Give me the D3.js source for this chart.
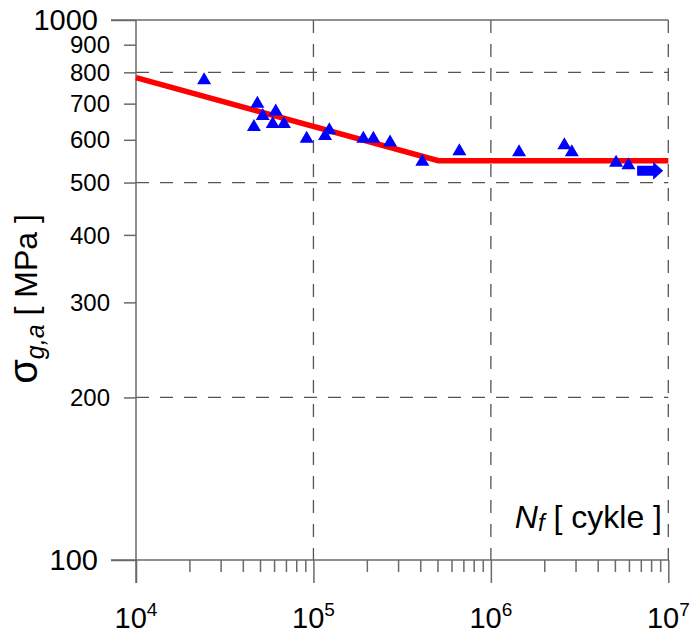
<!DOCTYPE html>
<html>
<head>
<meta charset="utf-8">
<script src="https://cdn.jsdelivr.net/npm/d3@7"></script>
<style>
  html, body { margin: 0; padding: 0; background: #fff; }
  svg { display: block; }
  text { font-family: "Liberation Sans", Arial, sans-serif; fill: #000; }
</style>
</head>
<body>
<svg id="chart" width="691" height="635"></svg>
<script>
// S-N (Wöhler) data: number of cycles to failure and stress amplitude [MPa]
const cyclesN = [24200, 48300, 51800, 46200, 61300, 58960, 68200, 91600, 122900, 116300,
                 191100, 217600, 270300, 411000, 664600, 1442000, 2596000, 2858000, 5078000, 5959000];
const stressAmp = [780, 706, 670, 639, 683, 647, 647, 608, 630, 615,
                   608, 608, 598, 551, 576, 574, 591, 574, 549, 543];

// run-out specimen (no failure)
const runoutN = [7900000];
const runoutS = [526];

// fitted S-N curve: sloped branch to the knee, then fatigue limit
const curveN = [1e4, 506000, 1e7];
const curveS = [782, 549, 549];

// axis ticks
const xMajorTicks = [1e4, 1e5, 1e6, 1e7];
const xMajorExp = [4, 5, 6, 7];
const yTicks = [100, 200, 300, 400, 500, 600, 700, 800, 900, 1000];
const yLongTicks = [100, 1000];
const xGrid = [1e5, 1e6, 1e7];
const yGrid = [200, 500, 800];

const svg = d3.select("#chart");
const x = d3.scaleLog().domain([1e4, 1e7]).range([136, 668.3]);
const y = d3.scaleLog().domain([100, 1000]).range([560, 20]);

const axisColor = "#6a6a6a";
const gridColor = "#555";

// minor ticks 2..9 in each decade
const xMinor = [];
[1e4, 1e5, 1e6].forEach(d => { for (let k = 2; k <= 9; k++) xMinor.push(d * k); });

// dashed grid
const grid = svg.append("g").attr("stroke", gridColor).attr("stroke-width", 1.3)
  .attr("stroke-dasharray", "13,11").attr("fill", "none");
grid.selectAll(".gx").data(xGrid).join("line")
  .attr("x1", d => x(d)).attr("x2", d => x(d))
  .attr("y1", y(1000)).attr("y2", y(100));
grid.selectAll(".gy").data(yGrid).join("line")
  .attr("x1", x(1e4)).attr("x2", x(1e7))
  .attr("y1", d => y(d)).attr("y2", d => y(d));

// bottom axis: major ticks below the line
const gxMajor = svg.append("g").attr("transform", `translate(0,${y(100)})`)
  .call(d3.axisBottom(x).tickValues(xMajorTicks).tickSize(23).tickSizeOuter(0).tickFormat(""));
gxMajor.select(".domain").remove();
const gxMinor = svg.append("g").attr("transform", `translate(0,${y(100)})`)
  .call(d3.axisBottom(x).tickValues(xMinor).tickSize(12).tickSizeOuter(0).tickFormat(""));
gxMinor.select(".domain").remove();

// left axis ticks
const gyShort = svg.append("g").attr("transform", `translate(${x(1e4)},0)`)
  .call(d3.axisLeft(y).tickValues(yTicks.filter(v => !yLongTicks.includes(v)))
    .tickSize(12).tickSizeOuter(0).tickFormat(""));
gyShort.select(".domain").remove();
const gyLong = svg.append("g").attr("transform", `translate(${x(1e4)},0)`)
  .call(d3.axisLeft(y).tickValues(yLongTicks).tickSize(25).tickSizeOuter(0).tickFormat(""));
gyLong.select(".domain").remove();
svg.selectAll(".tick line").attr("stroke", axisColor).attr("stroke-width", 1.5);

// frame lines: top, bottom, left
const frame = svg.append("g").attr("stroke", axisColor).attr("stroke-width", 1.5);
frame.append("line").attr("x1", x(1e4) - 25).attr("x2", x(1e7)).attr("y1", y(1000)).attr("y2", y(1000));
frame.append("line").attr("x1", x(1e4) - 25).attr("x2", x(1e7)).attr("y1", y(100)).attr("y2", y(100));
frame.append("line").attr("x1", x(1e4)).attr("x2", x(1e4)).attr("y1", y(1000)).attr("y2", y(100) + 23);

// y tick labels
svg.append("g").selectAll("text").data(yTicks).join("text")
  .attr("x", d => yLongTicks.includes(d) ? 98 : 110)
  .attr("y", d => y(d))
  .attr("dy", "0.36em")
  .attr("text-anchor", "end")
  .attr("font-size", d => yLongTicks.includes(d) ? 29 : 24)
  .text(d => d);

// x tick labels 10^n
const xl = svg.append("g").selectAll("text").data(xMajorTicks).join("text")
  .attr("x", d => x(d))
  .attr("y", 628)
  .attr("text-anchor", "middle")
  .attr("font-size", 29);
xl.append("tspan").text("10");
xl.append("tspan").attr("font-size", 19).attr("dy", -12).text((d, i) => xMajorExp[i]);

// S-N curve
const line = d3.line().x(d => x(d[0])).y(d => y(d[1]));
svg.append("path")
  .datum(curveN.map((n, i) => [n, curveS[i]]))
  .attr("d", line)
  .attr("fill", "none")
  .attr("stroke", "#ff0000")
  .attr("stroke-width", 5.5)
  .attr("stroke-linejoin", "miter");

// specimens (triangles)
const tw = 14, th = 12;
svg.append("g").selectAll("path").data(cyclesN.map((n, i) => [n, stressAmp[i]])).join("path")
  .attr("d", d => {
    const cx = x(d[0]), cy = y(d[1]);
    return `M${cx},${cy - th / 2}L${cx + tw / 2},${cy + th / 2}L${cx - tw / 2},${cy + th / 2}Z`;
  })
  .attr("fill", "#0000ff");

// run-out arrows
svg.append("g").selectAll("path").data(runoutN.map((n, i) => [n, runoutS[i]])).join("path")
  .attr("d", d => {
    const cx = x(d[0]), cy = y(d[1]);
    const x0 = cx - 13, xm = cx + 3, x1 = cx + 13;
    return `M${x0},${cy - 5}L${xm},${cy - 5}L${xm},${cy - 9}L${x1},${cy}` +
           `L${xm},${cy + 9}L${xm},${cy + 5}L${x0},${cy + 5}Z`;
  })
  .attr("fill", "#0000ff");

// axis titles
const xt = svg.append("text")
  .attr("x", 662).attr("y", 528)
  .attr("text-anchor", "end")
  .attr("font-size", 32);
xt.append("tspan").attr("font-style", "italic").text("N");
xt.append("tspan").attr("font-style", "italic").attr("font-size", 24).attr("dy", 3).text("f");
xt.append("tspan").attr("dy", -3).text(" [ cykle ]");

const yt = svg.append("text")
  .attr("transform", "translate(37,299) rotate(-90)")
  .attr("text-anchor", "middle")
  .attr("font-size", 32);
yt.append("tspan").attr("font-size", 40).text("σ");
yt.append("tspan").attr("font-style", "italic").attr("font-size", 25).attr("dy", 7).text("g,a");
yt.append("tspan").attr("dy", -7).text("  [ MPa ]");
</script>
</body>
</html>
